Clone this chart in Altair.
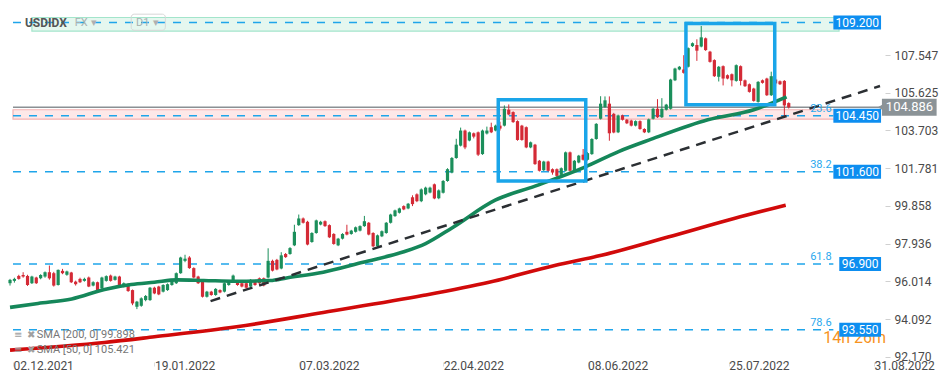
import altair as alt
import pandas as pd

# ---------------- data ----------------
open_ = [95.92, 96.04, 96.29, 96.34, 96.29, 95.92, 96.21, 96.17, 96.26, 96.48,
         96.43, 95.83, 96.55, 96.35, 96.46, 96.00, 96.14, 96.04, 96.21, 95.80,
         95.97, 95.66, 96.04, 96.31, 96.09, 96.26, 95.75, 95.87, 95.57, 94.72,
         94.77, 95.06, 95.06, 95.69, 95.75, 95.49, 95.57, 95.83, 95.92, 96.43,
         97.06, 97.23, 96.69, 96.26, 96.00, 95.23, 95.49, 95.32, 95.57, 95.49,
         95.83, 96.04, 96.04, 95.92, 95.92, 95.75, 96.00, 96.17, 96.17, 96.21,
         97.06, 97.11, 96.67, 97.41, 97.41, 97.85, 98.88, 99.22, 99.05, 98.02,
         98.48, 98.91, 99.08, 98.88, 98.43, 97.85, 98.19, 98.54, 98.43, 98.54,
         98.60, 98.83, 99.00, 98.48, 97.80, 98.31, 98.48, 99.00, 99.34, 99.51,
         99.85, 99.73, 100.30, 100.45, 100.10, 100.45, 100.54, 100.96, 100.25, 100.53,
         101.13, 101.56, 102.30, 102.93, 103.70, 103.19, 103.56, 103.61, 102.50, 103.55,
         103.87, 103.70, 103.95, 103.95, 104.76, 104.64, 104.18, 103.95, 103.87, 102.84,
         102.98, 102.16, 101.68, 102.12, 101.73, 101.73, 101.44, 101.65, 102.59, 101.61,
         102.07, 102.47, 102.21, 102.50, 103.27, 104.30, 104.90, 105.07, 104.55, 103.61,
         104.47, 104.25, 104.21, 103.95, 104.18, 103.78, 103.61, 104.30, 104.81, 104.38,
         104.76, 104.81, 106.26, 106.81, 106.81, 106.95, 108.00, 108.06, 107.98, 108.40,
         107.72, 107.29, 106.44, 106.98, 106.52, 106.57, 106.23, 106.98, 106.26, 106.06,
         105.84, 105.16, 106.26, 106.35, 105.50, 106.30, 106.21, 106.23, 105.10]
close_ = [96.09, 96.14, 96.14, 96.26, 95.83, 96.26, 95.92, 96.34, 96.48, 96.17,
          95.80, 96.60, 96.43, 96.52, 95.97, 95.87, 95.97, 96.14, 95.75, 95.97,
          95.52, 96.21, 96.28, 96.04, 96.26, 95.75, 95.92, 95.52, 94.89, 94.98,
          95.15, 95.27, 95.69, 95.40, 95.35, 95.83, 95.87, 96.04, 96.43, 97.23,
          97.17, 96.69, 96.21, 95.92, 95.23, 95.49, 95.32, 95.63, 95.45, 95.92,
          96.04, 96.31, 95.83, 95.75, 95.69, 96.09, 95.83, 95.92, 95.80, 97.06,
          96.56, 96.62, 97.34, 97.25, 97.71, 98.54, 99.22, 99.00, 97.89, 98.48,
          99.12, 99.05, 98.83, 98.26, 97.92, 98.19, 98.43, 98.40, 98.60, 98.77,
          98.83, 99.08, 98.40, 97.80, 98.36, 98.57, 99.00, 99.42, 99.63, 99.73,
          99.68, 99.97, 99.95, 100.10, 100.70, 100.79, 100.79, 100.24, 100.65, 101.13,
          101.73, 102.30, 102.98, 103.70, 102.84, 103.61, 103.39, 102.47, 103.70, 103.70,
          103.61, 103.95, 103.80, 104.81, 104.52, 104.13, 103.22, 103.22, 102.84, 103.10,
          101.99, 101.65, 102.12, 101.65, 101.56, 101.39, 101.78, 102.59, 101.65, 102.16,
          102.42, 102.21, 102.55, 103.27, 104.04, 105.07, 105.24, 103.56, 103.60, 104.47,
          104.25, 104.07, 103.95, 104.18, 103.78, 103.61, 104.27, 104.81, 104.38, 104.81,
          105.02, 106.30, 106.86, 106.95, 106.64, 107.90, 108.15, 107.77, 108.45, 107.80,
          107.20, 106.47, 106.95, 106.35, 106.35, 106.26, 107.03, 106.23, 105.96, 105.67,
          105.21, 106.18, 106.13, 105.50, 106.47, 106.10, 106.06, 104.98, 104.886]
high_ = [96.14, 96.20, 96.35, 96.48, 96.35, 96.30, 96.25, 96.38, 96.52, 96.82,
         96.50, 96.62, 96.65, 96.56, 96.50, 96.05, 96.20, 96.20, 96.26, 96.02,
         96.00, 96.25, 96.32, 96.36, 96.30, 96.30, 95.96, 95.92, 95.60, 95.02,
         95.20, 95.32, 95.73, 95.74, 95.79, 95.87, 95.91, 96.08, 96.47, 97.27,
         97.37, 97.30, 96.73, 96.30, 96.04, 95.53, 95.53, 95.67, 95.61, 95.96,
         96.08, 96.36, 96.08, 95.96, 95.96, 96.13, 96.04, 96.21, 96.21, 97.70,
         97.12, 97.16, 97.50, 97.46, 97.76, 98.90, 99.42, 99.27, 99.10, 98.52,
         99.16, 99.10, 99.12, 98.92, 98.47, 98.23, 98.47, 98.90, 98.64, 98.81,
         98.87, 99.35, 99.04, 98.52, 98.40, 98.61, 99.04, 99.46, 99.67, 99.77,
         99.89, 100.01, 100.40, 100.50, 100.75, 100.84, 100.84, 101.00, 100.70, 101.18,
         101.78, 102.35, 103.28, 103.85, 103.75, 103.65, 103.60, 103.65, 103.75, 103.90,
         104.10, 104.00, 104.15, 104.98, 105.03, 104.68, 104.22, 103.99, 103.91, 103.14,
         103.02, 102.20, 102.16, 102.16, 101.77, 101.77, 101.82, 102.63, 102.63, 102.20,
         102.46, 102.76, 102.60, 103.31, 104.08, 105.45, 105.44, 105.44, 104.60, 104.51,
         104.51, 104.29, 104.25, 104.22, 104.22, 103.82, 104.31, 104.85, 105.30, 105.35,
         105.06, 106.34, 106.90, 106.99, 107.54, 107.94, 108.19, 108.35, 109.03, 108.44,
         107.76, 107.33, 106.99, 107.02, 106.56, 106.61, 107.07, 107.02, 106.30, 106.10,
         105.88, 106.22, 106.30, 106.39, 106.70, 106.35, 106.25, 106.27, 105.14]
low_ = [95.80, 95.95, 96.10, 96.20, 95.78, 95.88, 95.88, 96.12, 96.20, 96.10,
        95.75, 95.80, 96.38, 96.30, 95.93, 95.80, 95.93, 96.00, 95.72, 95.76,
        95.48, 95.62, 96.00, 96.00, 96.05, 95.70, 95.71, 95.48, 94.80, 94.60,
        94.72, 95.00, 95.02, 95.36, 95.31, 95.45, 95.53, 95.79, 95.88, 96.40,
        96.99, 96.65, 96.17, 95.88, 95.19, 95.19, 95.28, 95.28, 95.41, 95.45,
        95.79, 96.00, 95.79, 95.71, 95.65, 95.71, 95.79, 95.88, 95.76, 96.17,
        96.52, 96.58, 96.63, 97.21, 97.37, 97.81, 98.84, 98.96, 97.85, 97.98,
        98.44, 98.87, 98.79, 98.22, 97.88, 97.81, 98.15, 98.36, 98.39, 98.50,
        98.56, 98.79, 98.36, 97.76, 97.76, 98.27, 98.44, 98.96, 99.30, 99.47,
        99.64, 99.69, 99.85, 100.05, 100.05, 100.40, 100.50, 100.20, 100.20, 100.49,
        101.09, 101.52, 102.26, 102.89, 102.75, 103.15, 103.30, 102.40, 102.46, 103.50,
        103.57, 103.66, 103.70, 103.91, 104.48, 104.09, 103.18, 103.18, 102.80, 102.80,
        101.95, 101.61, 101.64, 101.61, 101.45, 101.30, 101.40, 101.61, 101.61, 101.57,
        102.03, 102.17, 102.17, 102.46, 103.23, 104.26, 104.86, 103.18, 103.56, 103.57,
        104.21, 104.03, 103.91, 103.91, 103.74, 103.57, 103.57, 104.26, 104.34, 104.34,
        104.72, 104.77, 106.22, 106.77, 106.60, 106.91, 107.96, 107.25, 107.94, 107.76,
        107.16, 106.43, 106.20, 106.00, 106.31, 105.95, 106.19, 106.00, 105.92, 105.63,
        105.17, 105.12, 106.09, 105.46, 105.46, 105.95, 106.02, 104.38, 104.82]

sma50_idx = [0, 6.4, 14.1, 21.6, 27.7, 33.0, 38.2, 44.3, 51.8, 59.5, 63.2, 71.6,
             80.7, 89.8, 95.0, 101.1, 110.9, 120.0, 131.4, 139.1, 146.6, 159.5, 170.0, 177.5]
sma50_val = [94.69, 94.89, 95.12, 95.60, 95.85, 95.97, 96.09, 96.06, 96.02, 96.06, 96.19, 96.48,
             96.99, 97.51, 97.94, 98.75, 100.15, 100.87, 101.84, 102.63, 103.26, 104.25, 104.76, 105.42]
sma200_idx = [0, 21.6, 33.0, 51.8, 71.6, 94.3, 109.5, 124.5, 135.2, 150.4, 165.5, 177.3]
sma200_val = [92.51, 92.90, 93.19, 93.70, 94.43, 95.29, 95.97, 96.82, 97.34, 98.27, 99.22, 99.90]

trend_idx = [45.84, 198.86]
trend_val = [95.01, 105.97]

date_ticks = [0.7, 33, 66, 99, 132, 164.3, 197.5]
date_labels = ["02.12.2021", "19.01.2022", "07.03.2022", "22.04.2022",
               "08.06.2022", "25.07.2022", "31.08.2022"]
price_ticks = [92.170, 94.092, 96.014, 97.936, 99.858, 101.781, 103.703, 105.625, 107.547]

level_vals = [109.200, 104.450, 101.600, 96.900, 93.550]
level_texts = ["109.200", "104.450", "101.600", "96.900", "93.550"]
level_box_start = [188.2, 188.2, 188.2, 189.55, 189.55]
fib_vals = [104.450, 101.600, 96.900, 93.550]
fib_names = ["23.6", "38.2", "61.8", "78.6"]
current_price = 104.886
sma200_last = 99.898
sma50_last = 105.421

# zones and selection boxes (index / price)
pink_zone = [104.28, 104.76]
green_zone = [108.77, 109.46]
box_x1 = [111.6, 154.5]
box_x2 = [131.6, 174.8]
box_y1 = [101.13, 105.02]
box_y2 = [105.27, 109.15]

# ---------------- layout ----------------
X_DOM = [0.68, 198.86]
Y_DOM = [92.16, 109.69]
TOTAL_W, TOTAL_H = 933, 363
GREEN = "#1b8f5b"
RED = "#d42a36"
BLUE_LINE = "#1fa5ea"
BLUE_BOX = "#0d8ef0"
SEL = "#1aa5e9"
FONT = "Roboto"

xs = alt.Scale(domain=X_DOM, nice=False, zero=False)
ys = alt.Scale(domain=Y_DOM, nice=False, zero=False)

date_expr = ""
for k, (t, l) in enumerate(zip(date_ticks, date_labels)):
    if k < len(date_ticks) - 1:
        date_expr += f"datum.value < {(t + date_ticks[k + 1]) / 2} ? '{l}' : "
    else:
        date_expr += f"'{l}'"

x_axis = alt.Axis(values=date_ticks, labelExpr=date_expr, labelAlign="left", labelFlush=False,
                  labelOverlap=False, tickSize=4, tickColor="#dddddd", labelPadding=-6,
                  labelColor="#4a4a4a", labelFontSize=12, labelFont=FONT, domain=False,
                  grid=False, title=None)
y_axis = alt.Axis(values=price_ticks, format=".3f", orient="right", tickSize=5,
                  tickColor="#d0d0d0", labelPadding=4, labelColor="#4a4a4a", labelFontSize=12,
                  labelFont=FONT, labelFlush=True, domain=False, grid=False, title=None)


def X(field):
    return alt.X(field, type="quantitative", scale=xs, axis=x_axis, title=None)


def Y(field):
    return alt.Y(field, type="quantitative", scale=ys, axis=y_axis, title=None)


candles = pd.DataFrame({"i": list(range(len(open_))), "open": open_, "close": close_,
                        "high": high_, "low": low_})
up = alt.condition("datum.close >= datum.open", alt.value(GREEN), alt.value(RED))

zones = pd.DataFrame({"x1": [X_DOM[0], 5.0], "x2": [X_DOM[1], 189.5],
                      "y1": [pink_zone[0], green_zone[0]], "y2": [pink_zone[1], green_zone[1]],
                      "fill": ["#fde8e8", "#e5f7ef"], "stroke": ["#f4b3b3", "#a3e5cb"]})
zone_layer = alt.Chart(zones).mark_rect(strokeWidth=1.2).encode(
    x=X("x1:Q"), x2="x2:Q", y=Y("y1:Q"), y2="y2:Q",
    fill=alt.Fill("fill:N", scale=None), stroke=alt.Stroke("stroke:N", scale=None))

price_line = alt.Chart(pd.DataFrame({"x1": [X_DOM[0]], "x2": [X_DOM[1]], "p": [current_price]})).mark_rule(
    color="#8a9094", strokeWidth=1.5).encode(x=X("x1:Q"), x2="x2:Q", y=Y("p:Q"))

levels_df = pd.DataFrame({"x1": [X_DOM[0]] * 5, "x2": [188.2] * 5, "p": level_vals})
level_lines = alt.Chart(levels_df).mark_rule(color=BLUE_LINE, strokeWidth=1.5, strokeDash=[8, 8]).encode(
    x=X("x1:Q"), x2="x2:Q", y=Y("p:Q"))

wicks = alt.Chart(candles).mark_rule(strokeWidth=1, clip=True).encode(
    x=X("i:Q"), y=Y("low:Q"), y2="high:Q", color=up)
bodies = alt.Chart(candles).mark_bar(size=3.2, clip=True).encode(
    x=X("i:Q"), y=Y("open:Q"), y2="close:Q", color=up)

sma200 = alt.Chart(pd.DataFrame({"i": sma200_idx, "v": sma200_val})).mark_line(
    color="#d10a0a", strokeWidth=3.6, interpolate="monotone", clip=True).encode(x=X("i:Q"), y=Y("v:Q"))
sma50 = alt.Chart(pd.DataFrame({"i": sma50_idx, "v": sma50_val})).mark_line(
    color="#15875a", strokeWidth=3.6, interpolate="monotone", clip=True).encode(x=X("i:Q"), y=Y("v:Q"))
trend = alt.Chart(pd.DataFrame({"i": trend_idx, "v": trend_val})).mark_line(
    color="#2b2f33", strokeWidth=2.5, strokeDash=[10, 7], clip=True).encode(x=X("i:Q"), y=Y("v:Q"))

boxes = alt.Chart(pd.DataFrame({"x1": box_x1, "x2": box_x2, "y1": box_y1, "y2": box_y2})).mark_rect(
    fillOpacity=0, stroke=SEL, strokeWidth=3.5).encode(x=X("x1:Q"), x2="x2:Q", y=Y("y1:Q"), y2="y2:Q")

fib_text = alt.Chart(pd.DataFrame({"x": [187.8] * 4, "p": fib_vals, "t": fib_names})).mark_text(
    align="right", baseline="bottom", dy=-2, fontSize=11, font=FONT, color="#2aa8ee").encode(
    x=X("x:Q"), y=Y("p:Q"), text="t:N")

timer = alt.Chart(pd.DataFrame({"x": [185.9], "p": [93.14], "t": ["14h 26m"]})).mark_text(
    align="left", baseline="middle", fontSize=16, font=FONT, color="#f7931e").encode(
    x=X("x:Q"), y=Y("p:Q"), text="t:N")

lbl_df = pd.DataFrame({"x1": level_box_start, "x2": [199.1] * 5, "p": level_vals, "t": level_texts})
lbl_df["xc"] = (lbl_df["x1"] + lbl_df["x2"]) / 2
lbl_boxes = alt.Chart(lbl_df).mark_bar(orient="horizontal", size=14, color=BLUE_BOX).encode(
    x=X("x1:Q"), x2="x2:Q", y=Y("p:Q"))
lbl_text = alt.Chart(lbl_df).mark_text(align="center", baseline="middle", fontSize=12, font=FONT,
                                        color="white").encode(x=X("xc:Q"), y=Y("p:Q"), text="t:N")

cur_df = pd.DataFrame({"x1": [199.3], "x2": [211.8], "xt": [199.4], "xc": [205.6],
                       "p": [current_price], "t": [f"{current_price:.3f}"]})
cur_box = alt.Chart(cur_df).mark_bar(orient="horizontal", size=17, color="#8b9397").encode(
    x=X("x1:Q"), x2="x2:Q", y=Y("p:Q"))
cur_tri = alt.Chart(cur_df).mark_point(shape="triangle-left", filled=True, size=110, opacity=1,
                                        color="#8b9397").encode(x=X("xt:Q"), y=Y("p:Q"))
cur_text = alt.Chart(cur_df).mark_text(align="center", baseline="middle", fontSize=13, font=FONT,
                                        color="white").encode(x=X("xc:Q"), y=Y("p:Q"), text="t:N")

legend_df = pd.DataFrame({"x": [6.1, 6.1], "p": [93.29, 92.52],
                          "t": [f"SMA  [200,  0]  {sma200_last:.3f}", f"SMA  [50,  0]  {sma50_last:.3f}"]})
legend_text = alt.Chart(legend_df).mark_text(align="left", baseline="middle", fontSize=11, font=FONT,
                                             color="#777777").encode(x=X("x:Q"), y=Y("p:Q"), text="t:N")
icon_df = pd.DataFrame({"x": [0.9, 0.9, 3.9, 3.9], "p": [93.29, 92.52, 93.29, 92.52],
                        "t": ["≡", "≡", "✖", "✖"]})
icon_text = alt.Chart(icon_df).mark_text(align="left", baseline="middle", fontSize=10,
                                         font="DejaVu Sans", color="#a0a0a0").encode(
    x=X("x:Q"), y=Y("p:Q"), text="t:N")

d1_box = alt.Chart(pd.DataFrame({"x1": [27.7], "x2": [35.5], "y1": [108.81], "y2": [109.63]})).mark_rect(
    fillOpacity=0, stroke="#d8d8d8", strokeWidth=1, cornerRadius=3).encode(
    x=X("x1:Q"), x2="x2:Q", y=Y("y1:Q"), y2="y2:Q")
top_df = pd.DataFrame({"x": [3.4, 14.8, 18.6, 28.8, 32.6], "p": [109.2] * 5,
                       "t": ["USDIDX", "FX", "▾", "D1", "▾"],
                       "c": ["#555555", "#a8b0b0", "#b0b0b0", "#a8b0b0", "#b0b0b0"]})
top_text = alt.Chart(top_df.iloc[:1]).mark_text(
    align="left", baseline="middle", fontSize=12, font=FONT, fontWeight="bold", color="#555555").encode(
    x=X("x:Q"), y=Y("p:Q"), text="t:N")
top_text2 = alt.Chart(top_df.iloc[1:]).mark_text(
    align="left", baseline="middle", fontSize=11, font=FONT).encode(
    x=X("x:Q"), y=Y("p:Q"), text="t:N", color=alt.Color("c:N", scale=None))

chart = alt.layer(
    zone_layer, price_line, level_lines, wicks, bodies, sma200, sma50, trend, boxes,
    fib_text, timer, lbl_boxes, lbl_text, cur_box, cur_tri, cur_text,
    legend_text, icon_text, d1_box, top_text, top_text2
).properties(width=TOTAL_W, height=TOTAL_H,
             autosize=alt.AutoSizeParams(type="fit", contains="padding"),
             padding={"left": 0, "top": 0, "right": 0, "bottom": 0},
             background="white").configure_view(stroke=None)

chart.save("out.html", embed_options={"renderer": "svg", "actions": False})
